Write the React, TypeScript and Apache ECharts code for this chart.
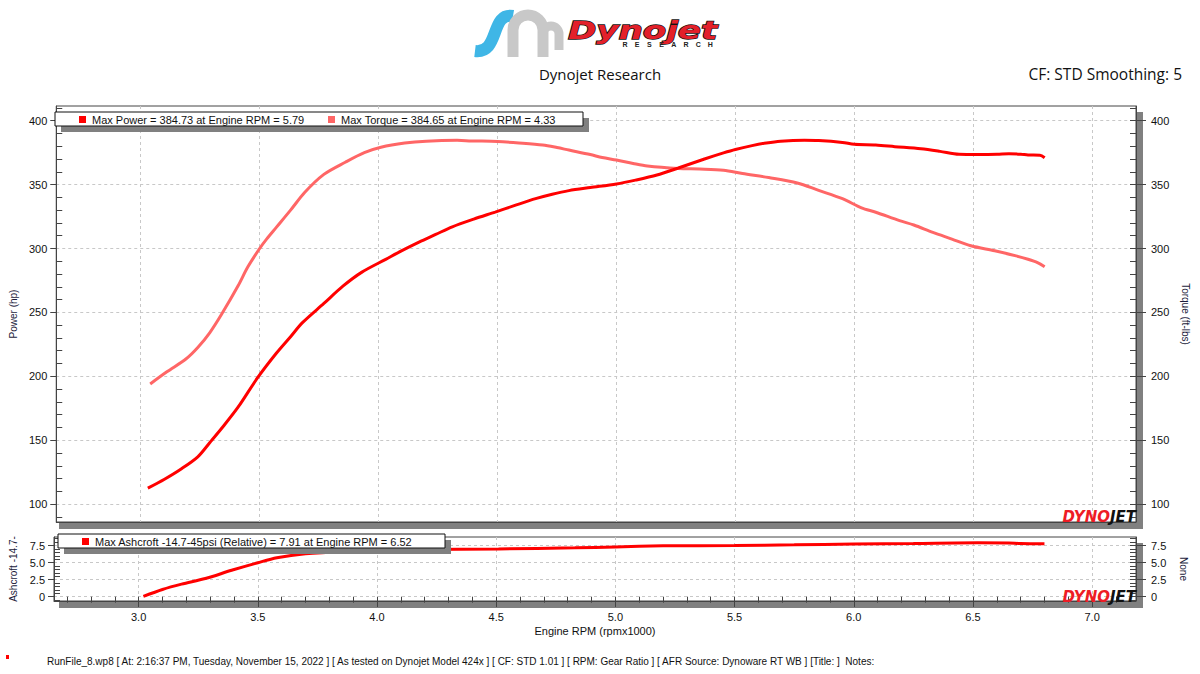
import React, { useEffect, useRef } from 'react';
import * as echarts from 'echarts';

// ---------- data ----------
const powerRpm = [3.03, 3.10, 3.17, 3.24, 3.29, 3.35, 3.41, 3.49, 3.57, 3.63, 3.68, 3.77, 3.85, 3.93, 4.03, 4.10, 4.17, 4.24, 4.31, 4.40, 4.49, 4.57, 4.66, 4.73, 4.80, 4.89, 5.00, 5.08, 5.17, 5.26, 5.37, 5.45, 5.50, 5.57, 5.63, 5.69, 5.79, 5.85, 5.95, 6.00, 6.09, 6.17, 6.28, 6.36, 6.44, 6.52, 6.60, 6.65, 6.70, 6.73, 6.78, 6.80];
const powerHp = [112.5, 119.5, 127.5, 137, 148, 161.5, 176, 198.5, 218, 231, 242, 257, 270.5, 281.5, 291.5, 298.5, 305, 311, 317, 323, 328.5, 333.5, 339, 342.5, 345.3, 347.7, 350.5, 353.5, 357.5, 363, 370, 374.8, 377.5, 380.5, 382.6, 384, 384.73, 384.5, 383, 381.5, 381, 379.7, 378, 376, 373.7, 373.5, 373.7, 374.2, 373.8, 373.2, 373, 371];

const torqueRpm = [3.04, 3.11, 3.19, 3.24, 3.29, 3.34, 3.41, 3.45, 3.50, 3.53, 3.57, 3.63, 3.69, 3.77, 3.86, 3.94, 4.01, 4.11, 4.20, 4.33, 4.39, 4.50, 4.59, 4.69, 4.75, 4.80, 4.89, 4.94, 5.00, 5.07, 5.13, 5.26, 5.35, 5.45, 5.53, 5.64, 5.76, 5.85, 5.95, 6.03, 6.09, 6.19, 6.25, 6.33, 6.41, 6.49, 6.59, 6.68, 6.73, 6.77, 6.80];
const torqueLbft = [194, 203.5, 213.5, 222.5, 234, 248.5, 271, 285.5, 300, 307.5, 316.5, 330, 344, 358, 367.5, 375, 379.2, 382.5, 384, 384.65, 384.2, 383.7, 382.6, 381, 379, 377, 373.5, 371.2, 369.2, 366.5, 364.5, 362.6, 362.2, 361.3, 358.7, 355.5, 351.3, 345.5, 339, 331.8, 328.4, 321.8, 318.4, 312.6, 307.4, 302.1, 298.2, 294.2, 291.6, 289, 285.8];

const boostRpm = [3.02, 3.10, 3.18, 3.28, 3.39, 3.50, 3.58, 3.70, 3.87, 4.03, 4.19, 4.51, 4.83, 5.00, 5.20, 5.50, 5.75, 6.00, 6.25, 6.52, 6.65, 6.70, 6.80];
const boostPsi = [0.05, 1.06, 1.84, 2.66, 3.87, 4.98, 5.71, 6.29, 6.63, 6.77, 6.92, 7.0, 7.16, 7.3, 7.45, 7.5, 7.6, 7.72, 7.8, 7.91, 7.88, 7.78, 7.75];

// ---------- ticks ----------
const rpmMajorTicks = [3.0, 3.5, 4.0, 4.5, 5.0, 5.5, 6.0, 6.5, 7.0];
const rpmMinorTicks = [2.7, 2.8, 2.9, 3.0, 3.1, 3.2, 3.3, 3.4, 3.5, 3.6, 3.7, 3.8, 3.9, 4.0, 4.1, 4.2, 4.3, 4.4, 4.5, 4.6, 4.7, 4.8, 4.9, 5.0, 5.1, 5.2, 5.3, 5.4, 5.5, 5.6, 5.7, 5.8, 5.9, 6.0, 6.1, 6.2, 6.3, 6.4, 6.5, 6.6, 6.7, 6.8, 6.9, 7.0, 7.1];
const mainMajorTicks = [100, 150, 200, 250, 300, 350, 400];
const mainMinorTicks = [90, 110, 120, 130, 140, 160, 170, 180, 190, 210, 220, 230, 240, 260, 270, 280, 290, 310, 320, 330, 340, 360, 370, 380, 390, 410];
const lowerMajorTicks = [0, 2.5, 5, 7.5];
const lowerMinorTicks = [-0.5, 0.5, 1, 1.5, 2, 3, 3.5, 4, 4.5, 5.5, 6, 6.5, 7, 8, 8.5];

// ---------- texts ----------
const titleText = 'Dynojet Research';
const cfText = 'CF: STD Smoothing: 5';
const legendPower = 'Max Power = 384.73 at Engine RPM = 5.79';
const legendTorque = 'Max Torque = 384.65 at Engine RPM = 4.33';
const legendBoost = 'Max Ashcroft -14.7-45psi (Relative) = 7.91 at Engine RPM = 6.52';
const footerText = 'RunFile_8.wp8 [ At: 2:16:37 PM, Tuesday, November 15, 2022 ] [ As tested on Dynojet Model 424x ] [ CF: STD 1.01 ] [ RPM: Gear Ratio ] [ AFR Source: Dynoware RT WB ] [Title: ]  Notes:';
const researchLetters = ['R', 'E', 'S', 'E', 'A', 'R', 'C', 'H'];

const FONT = '"Liberation Sans", Arial, sans-serif';
const X_MIN = 2.645;
const X_MAX = 7.184;
const GRID_LINE = { color: '#c8c8c8', type: [3, 3] as any, width: 1 };
const AXIS_COLOR = '#444';
const SHADOW = '#808080';

const zip = (xs: number[], ys: number[]) => xs.map((x, i) => [x, ys[i]]);

function yPair(gridIndex: number, position: 'left' | 'right', min: number, max: number, majors: number[], minors: number[], name: string, fmt: (v: number) => string, majorLen: number, innerIncludesMajor: boolean) {
  return [
    {
      type: 'value', gridIndex, position, min, max,
      axisLine: { show: true, onZero: false, lineStyle: { color: AXIS_COLOR } },
      axisTick: { show: true, inside: false, length: majorLen, customValues: majors, lineStyle: { color: AXIS_COLOR } },
      axisLabel: { show: true, customValues: majors, formatter: fmt, color: '#111', fontSize: 11, fontFamily: FONT, margin: position === 'left' ? 9 : 15 },
      splitLine: { show: position === 'left', lineStyle: GRID_LINE },
      name, nameLocation: 'middle', nameGap: position === 'left' ? 36 : 42,
      nameRotate: position === 'left' ? 90 : -90,
      nameTextStyle: { color: '#1c1c3c', fontSize: 10, fontFamily: FONT },
    },
    {
      type: 'value', gridIndex, position, min, max,
      axisLine: { show: false },
      axisTick: { show: true, inside: true, length: 6, customValues: innerIncludesMajor ? minors.concat(majors) : minors, lineStyle: { color: AXIS_COLOR } },
      axisLabel: { show: false },
      splitLine: { show: false },
    },
  ];
}

export default function App() {
  const ref = useRef<HTMLDivElement>(null);
  useEffect(() => {
    if (!ref.current) return;
    const chart = echarts.init(ref.current, undefined, { renderer: 'svg' });

    const mainFmt = (v: number) => String(v);
    const lowFmt = (v: number) => (v === 0 ? '0' : v.toFixed(1));

    const yAxes = [
      ...yPair(0, 'left', 86, 411.5, mainMajorTicks, mainMinorTicks, 'Power (hp)', mainFmt, 6, false),
      ...yPair(0, 'right', 86, 411.5, mainMajorTicks, mainMinorTicks, 'Torque (ft-lbs)', mainFmt, 10, true),
      ...yPair(1, 'left', -0.63, 8.75, lowerMajorTicks, lowerMinorTicks, 'Ashcroft -14.7-', lowFmt, 6, false),
      ...yPair(1, 'right', -0.63, 8.75, lowerMajorTicks, lowerMinorTicks, 'None', lowFmt, 10, true),
    ];

    const researchEls = researchLetters.map((ch, i) => ({
      type: 'text', x: 625 + i * 12.2, y: 44.5, z: 100,
      style: { text: ch, font: `bold 7px ${FONT}`, fill: '#222', align: 'center', verticalAlign: 'middle' },
    }));

    const legendBox = (x: number, y: number, w: number, h: number) => [
      { type: 'rect', z: 99, shape: { x: x + 6, y: y + 6, width: w, height: h }, style: { fill: SHADOW } },
      { type: 'rect', z: 100, shape: { x, y, width: w, height: h }, style: { fill: '#fff', stroke: '#111', lineWidth: 1 } },
    ];

    const wmRich = {
      a: { fill: '#ee1c25', fontSize: 15, fontWeight: 900, fontStyle: 'italic', fontFamily: '"DejaVu Sans", sans-serif' },
      b: { fill: '#111', fontSize: 15, fontWeight: 900, fontStyle: 'italic', fontFamily: '"DejaVu Sans", sans-serif' },
    };

    const lineCommon = { showSymbol: false, smooth: 0.3 };

    const option: any = {
      animation: false,
      backgroundColor: '#fff',
      grid: [
        { left: 52, right: 64, top: 106, height: 416, show: true, borderColor: AXIS_COLOR, borderWidth: 1, backgroundColor: 'transparent' },
        { left: 52, right: 64, top: 537, height: 64, show: true, borderColor: AXIS_COLOR, borderWidth: 1, backgroundColor: 'transparent' },
      ],
      xAxis: [
        {
          type: 'value', gridIndex: 0, min: X_MIN, max: X_MAX,
          axisLine: { show: true, onZero: false, lineStyle: { color: AXIS_COLOR } },
          axisTick: { show: false, customValues: rpmMajorTicks },
          axisLabel: { show: false },
          splitLine: { show: true, lineStyle: GRID_LINE },
        },
        {
          type: 'value', gridIndex: 1, min: X_MIN, max: X_MAX,
          axisLine: { show: true, onZero: false, lineStyle: { color: AXIS_COLOR } },
          axisTick: { show: true, inside: false, length: 6, customValues: rpmMajorTicks, lineStyle: { color: AXIS_COLOR } },
          axisLabel: { show: true, customValues: rpmMajorTicks, formatter: (v: number) => v.toFixed(1), color: '#111', fontSize: 11, fontFamily: FONT, margin: 10 },
          splitLine: { show: true, lineStyle: GRID_LINE },
          name: 'Engine RPM (rpmx1000)', nameLocation: 'middle', nameGap: 24,
          nameTextStyle: { color: '#111', fontSize: 11, fontFamily: FONT },
        },
        {
          type: 'value', gridIndex: 1, min: X_MIN, max: X_MAX,
          axisLine: { show: false },
          axisTick: { show: true, inside: true, length: 6, customValues: rpmMinorTicks, lineStyle: { color: AXIS_COLOR } },
          axisLabel: { show: false },
          splitLine: { show: false },
        },
      ],
      yAxis: yAxes,
      series: [
        {
          type: 'line', name: 'Power', xAxisIndex: 0, yAxisIndex: 0, data: zip(powerRpm, powerHp), ...lineCommon,
          lineStyle: { color: '#ff0000', width: 3 }, itemStyle: { color: '#ff0000' }, z: 4,
        },
        {
          type: 'line', name: 'Torque', xAxisIndex: 0, yAxisIndex: 2, data: zip(torqueRpm, torqueLbft), ...lineCommon,
          lineStyle: { color: '#ff6666', width: 3 }, itemStyle: { color: '#ff6666' }, z: 3,
        },
        {
          type: 'line', name: 'Ashcroft', xAxisIndex: 1, yAxisIndex: 4, data: zip(boostRpm, boostPsi), ...lineCommon,
          lineStyle: { color: '#ff0000', width: 3 }, itemStyle: { color: '#ff0000' }, z: 3,
        },
      ],
      graphic: [
        // plot shadows
        { type: 'rect', z: -1, shape: { x: 59, y: 522.5, width: 1084, height: 6.5 }, style: { fill: SHADOW } },
        { type: 'rect', z: -1, shape: { x: 1136.5, y: 112, width: 6.5, height: 417 }, style: { fill: SHADOW } },
        { type: 'rect', z: -1, shape: { x: 59, y: 601.5, width: 1084, height: 6.5 }, style: { fill: SHADOW } },
        { type: 'rect', z: -1, shape: { x: 1136.5, y: 543, width: 6.5, height: 65 }, style: { fill: SHADOW } },
        // legends
        ...legendBox(55, 112, 528, 14),
        { type: 'rect', z: 101, shape: { x: 79, y: 116, width: 7, height: 7 }, style: { fill: '#ff0000' } },
        { type: 'text', z: 101, x: 92, y: 119.5, style: { text: legendPower, font: `11px ${FONT}`, fill: '#111', verticalAlign: 'middle' } },
        { type: 'rect', z: 101, shape: { x: 328, y: 116, width: 7, height: 7 }, style: { fill: '#ff6666' } },
        { type: 'text', z: 101, x: 341, y: 119.5, style: { text: legendTorque, font: `11px ${FONT}`, fill: '#111', verticalAlign: 'middle' } },
        ...legendBox(58, 534, 387, 14),
        { type: 'rect', z: 101, shape: { x: 82, y: 538, width: 7, height: 7 }, style: { fill: '#ff0000' } },
        { type: 'text', z: 101, x: 95, y: 541.5, style: { text: legendBoost, font: `11px ${FONT}`, fill: '#111', verticalAlign: 'middle' } },
        // watermarks
        { type: 'text', z: 50, x: 1136, y: 517, style: { text: '{a|DYNO}{b|JET}', align: 'right', verticalAlign: 'middle', rich: wmRich } },
        { type: 'text', z: 50, x: 1136, y: 597, style: { text: '{a|DYNO}{b|JET}', align: 'right', verticalAlign: 'middle', rich: wmRich } },
        // header logo
        { type: 'bezierCurve', z: 100, shape: { x1: 513, y1: 16, cpx1: 490, cpy1: 12, cpx2: 500, cpy2: 54, x2: 475, y2: 51 }, style: { stroke: '#3fb6e6', lineWidth: 12, fill: 'none' } },
        { type: 'arc', z: 100, shape: { cx: 528, cy: 30, r: 15, startAngle: Math.PI, endAngle: Math.PI * 2, clockwise: true }, style: { stroke: '#c8c8c8', lineWidth: 11, fill: 'none' } },
        { type: 'line', z: 100, shape: { x1: 513, y1: 30, x2: 513, y2: 57 }, style: { stroke: '#c8c8c8', lineWidth: 11 } },
        { type: 'line', z: 100, shape: { x1: 543, y1: 30, x2: 543, y2: 57 }, style: { stroke: '#c8c8c8', lineWidth: 11 } },
        { type: 'arc', z: 100, shape: { cx: 551, cy: 34, r: 8, startAngle: Math.PI, endAngle: Math.PI * 2, clockwise: true }, style: { stroke: '#c8c8c8', lineWidth: 9, fill: 'none' } },
        { type: 'line', z: 100, shape: { x1: 559, y1: 34, x2: 559, y2: 50 }, style: { stroke: '#c8c8c8', lineWidth: 9 } },
        {
          type: 'text', z: 100, x: 568, y: 31, scaleX: 1.42,
          style: { text: 'Dynojet', font: `italic 900 24px "DejaVu Sans", sans-serif`, fill: '#e3202a', stroke: '#111', lineWidth: 1.3, verticalAlign: 'middle' },
        },
        ...researchEls,
        // header texts
        { type: 'text', z: 100, x: 600, y: 74, style: { text: titleText, font: `15px "Open Sans", ${FONT}`, fill: '#111', align: 'center', verticalAlign: 'middle' } },
        { type: 'text', z: 100, x: 1182, y: 74, style: { text: cfText, font: `15.5px "Open Sans", ${FONT}`, fill: '#111', align: 'right', verticalAlign: 'middle' } },
        // footer
        { type: 'rect', z: 100, shape: { x: 6, y: 655, width: 3, height: 4 }, style: { fill: '#ff0000' } },
        { type: 'text', z: 100, x: 47, y: 661, style: { text: footerText, font: `10px ${FONT}`, fill: '#111', verticalAlign: 'middle' } },
      ],
    };

    chart.setOption(option);
    return () => chart.dispose();
  }, []);

  return <div ref={ref} style={{ position: 'fixed', left: 0, top: 0, width: 1200, height: 674, background: '#fff' }} />;
}
